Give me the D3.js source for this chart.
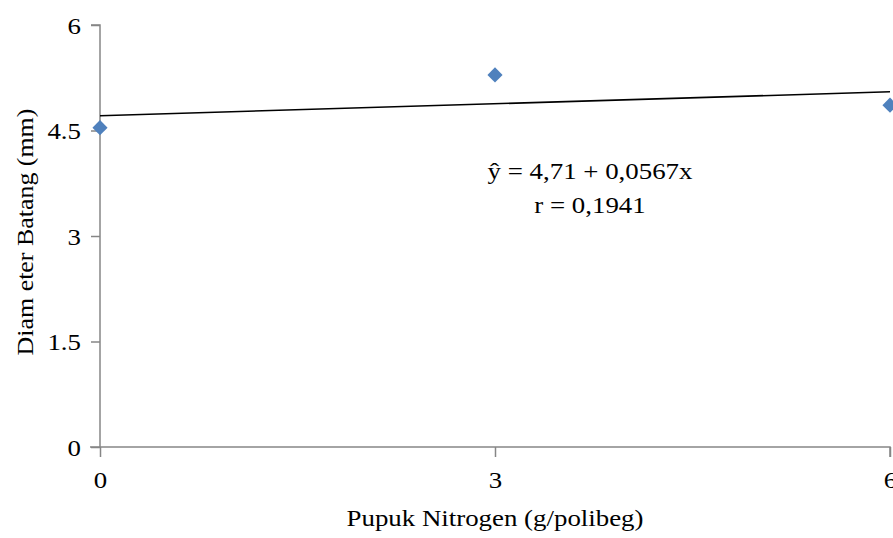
<!DOCTYPE html>
<html>
<head>
<meta charset="utf-8">
<script src="https://cdn.jsdelivr.net/npm/d3@7"></script>
<style>
  body { margin: 0; background: #fff; }
  text { font-family: "Liberation Serif", "Times New Roman", serif; fill: #000; }
</style>
</head>
<body>
<div id="chart"></div>
<script>
// data
var doses = [0, 3, 6];
var diameter = [4.54, 5.29, 4.86];
var yTicks = [0, 1.5, 3, 4.5, 6];
var xTicks = [0, 3, 6];
var intercept = 4.71, slope = 0.0567;
var eqLines = ["ŷ = 4,71 + 0,0567x", "r = 0,1941"];

var width = 893, height = 538;
var fs = "24px";
var stretch = 1.12; // reference text is a bit wider than plain Times

var svg = d3.select("#chart").append("svg")
    .attr("width", width)
    .attr("height", height);

var x = d3.scaleLinear().domain([0, 6]).range([100, 890]);
var y = d3.scaleLinear().domain([0, 6]).range([447, 25]);

var axisColor = "#868686";

function wide(sel, ax, ay) {
  sel.attr("transform", "translate(" + ax + "," + ay + ") scale(" + stretch + ",1)");
}

// y axis
var yAxis = svg.append("g")
    .attr("transform", "translate(" + x(0) + ",0)")
    .call(d3.axisLeft(y).tickValues(yTicks).tickSize(9).tickPadding(8)
      .tickFormat(function(d) { return d; }));
yAxis.select(".domain").attr("stroke", axisColor).attr("stroke-width", 1.5)
    .attr("d", "M-9," + y(6) + "H0V" + y(0));
yAxis.selectAll(".tick line").attr("stroke", axisColor).attr("stroke-width", 1.5);
yAxis.selectAll(".tick text").style("font-size", fs)
    .attr("font-family", null).attr("dy", "0.35em")
    .attr("x", 0)
    .each(function() { wide(d3.select(this), -19, 0); });

// x axis
var xAxis = svg.append("g")
    .attr("transform", "translate(0," + y(0) + ")")
    .call(d3.axisBottom(x).tickValues(xTicks).tickSize(10).tickPadding(12)
      .tickFormat(function(d) { return d; }));
xAxis.select(".domain").attr("stroke", axisColor).attr("stroke-width", 1.5)
    .attr("d", "M" + (x(0) - 10) + ",0H" + x(6) + "V10");
xAxis.selectAll(".tick line").attr("stroke", axisColor).attr("stroke-width", 1.5);
xAxis.selectAll(".tick text").style("font-size", fs).attr("font-family", null)
    .attr("y", 0).attr("dy", 0)
    .each(function() { wide(d3.select(this), 0, 41); });

// trend line
var line = d3.line()
    .x(function(d) { return x(d); })
    .y(function(d) { return y(intercept + slope * d); });
svg.append("path")
    .attr("d", line([0, 6]))
    .attr("fill", "none")
    .attr("stroke", "#000")
    .attr("stroke-width", 1.6);

// points
svg.selectAll(".pt")
    .data(doses)
    .enter().append("path")
    .attr("class", "pt")
    .attr("d", d3.symbol().type(d3.symbolSquare).size(115))
    .attr("transform", function(d, i) {
      return "translate(" + x(d) + "," + y(diameter[i]) + ") rotate(45)";
    })
    .attr("fill", "#4F81BD");

// equation
svg.selectAll(".eq")
    .data(eqLines)
    .enter().append("text")
    .attr("class", "eq")
    .attr("text-anchor", "middle")
    .style("font-size", fs)
    .text(function(d) { return d; })
    .each(function(d, i) { wide(d3.select(this), 590, 179 + i * 34); });

// axis titles
svg.append("text")
    .attr("text-anchor", "middle")
    .style("font-size", fs)
    .text("Pupuk Nitrogen (g/polibeg)")
    .call(wide, 495, 526);

svg.append("text")
    .attr("transform", "translate(33,232) rotate(-90) scale(1.08,1)")
    .attr("text-anchor", "middle")
    .style("font-size", fs)
    .text("Diam eter Batang (mm)");
</script>
</body>
</html>
